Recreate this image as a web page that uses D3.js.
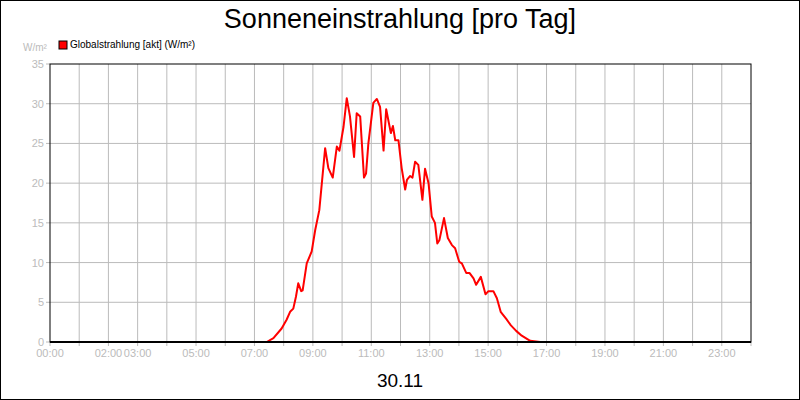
<!DOCTYPE html>
<html><head><meta charset="utf-8">
<script src="https://cdn.jsdelivr.net/npm/d3@7"></script>
<style>body{margin:0;background:#fff}svg{display:block;font-family:"Liberation Sans",Arial,sans-serif}</style>
</head><body><svg width="800" height="400"></svg>
<script>
const times=[0,7.42,7.65,7.93,8.1,8.22,8.33,8.42,8.5,8.6,8.65,8.79,8.96,9.08,9.22,9.42,9.53,9.68,9.82,9.91,10.05,10.16,10.27,10.41,10.5,10.62,10.75,10.82,10.9,11.07,11.19,11.3,11.42,11.51,11.67,11.74,11.82,11.93,12.04,12.16,12.22,12.33,12.41,12.5,12.61,12.75,12.84,12.96,13.07,13.18,13.26,13.33,13.49,13.62,13.76,13.87,14.01,14.1,14.25,14.36,14.5,14.59,14.75,14.91,15.01,15.18,15.3,15.43,15.62,15.78,15.96,16.15,16.44,16.78,24];
const values=[0,0,0.5,1.7,2.8,3.8,4.2,5.7,7.4,6.4,6.5,9.9,11.4,14.1,16.6,24.4,21.9,20.7,24.6,24.1,27.1,30.7,28.4,23.3,28.8,28.4,20.7,21.2,25.0,30.1,30.6,29.6,24.1,29.3,26.3,27.2,25.4,25.4,21.9,19.2,20.4,20.9,20.7,22.7,22.3,17.9,21.8,20.0,15.8,15.0,12.4,12.8,15.6,13.1,12.2,11.8,10.1,9.9,8.7,8.7,8.0,7.2,8.2,6.0,6.4,6.4,5.5,3.8,2.9,2.1,1.4,0.8,0.15,0,0];
const xTickHours=[0,2,3,5,7,9,11,13,15,17,19,21,23];
const xTickLabels=["00:00","02:00","03:00","05:00","07:00","09:00","11:00","13:00","15:00","17:00","19:00","21:00","23:00"];
const yTicks=[0,5,10,15,20,25,30,35];
const title="Sonneneinstrahlung [pro Tag]", dateLabel="30.11", legendLabel="Globalstrahlung [akt] (W/m²)", unit="W/m²";

const svg=d3.select("svg");
const L=50,R=751,T=64,B=342;
const x=d3.scaleLinear().domain([0,24]).range([L,R]);
const y=d3.scaleLinear().domain([0,35]).range([B,T]);
svg.append("rect").attr("x",0.5).attr("y",0.5).attr("width",799).attr("height",399).attr("fill","#fff").attr("stroke","#000");
const g=svg.append("g");
g.selectAll(".vg").data(d3.range(1,24)).join("line").attr("x1",d=>x(d)).attr("x2",d=>x(d)).attr("y1",T).attr("y2",B).attr("stroke","#bbb");
g.selectAll(".hg").data(yTicks.slice(1,-1)).join("line").attr("x1",L).attr("x2",R).attr("y1",d=>y(d)).attr("y2",d=>y(d)).attr("stroke","#bbb");
g.selectAll(".yt").data(yTicks).join("line").attr("x1",L-4).attr("x2",L).attr("y1",d=>y(d)).attr("y2",d=>y(d)).attr("stroke","#bbb");
g.selectAll(".xt").data(d3.range(0,25)).join("line").attr("x1",d=>x(d)).attr("x2",d=>x(d)).attr("y1",B).attr("y2",B+4).attr("stroke","#bbb");
g.selectAll(".yl").data(yTicks).join("text").attr("x",L-6).attr("y",d=>y(d)+4).attr("text-anchor","end").attr("font-size",11).attr("fill","#bbb").text(d=>d);
g.selectAll(".xl").data(xTickHours).join("text").attr("x",d=>x(d)).attr("y",B+15).attr("text-anchor","middle").attr("font-size",11).attr("fill","#bbb").text((d,i)=>xTickLabels[i]);
svg.append("rect").attr("x",L).attr("y",T).attr("width",R-L).attr("height",B-T).attr("fill","none").attr("stroke","#000");
svg.append("path").datum(times.map((t,i)=>[t,values[i]])).attr("fill","none").attr("stroke","#f00").attr("stroke-width",2).attr("stroke-linejoin","round")
 .attr("d",d3.line().x(d=>x(d[0])).y(d=>y(d[1])));
svg.append("line").attr("x1",L).attr("x2",R).attr("y1",B).attr("y2",B).attr("stroke","#000").attr("stroke-width",2);
svg.append("text").attr("x",400).attr("y",28).attr("text-anchor","middle").attr("font-size",27).text(title);
svg.append("text").attr("x",400).attr("y",387).attr("text-anchor","middle").attr("font-size",19).text(dateLabel);
svg.append("text").attr("x",23).attr("y",51).attr("font-size",10).attr("fill","#bbb").text(unit);
svg.append("rect").attr("x",59).attr("y",41).attr("width",8).attr("height",8).attr("fill","#f00").attr("stroke","#000");
svg.append("text").attr("x",70).attr("y",48).attr("font-size",10).text(legendLabel);
</script></body></html>
